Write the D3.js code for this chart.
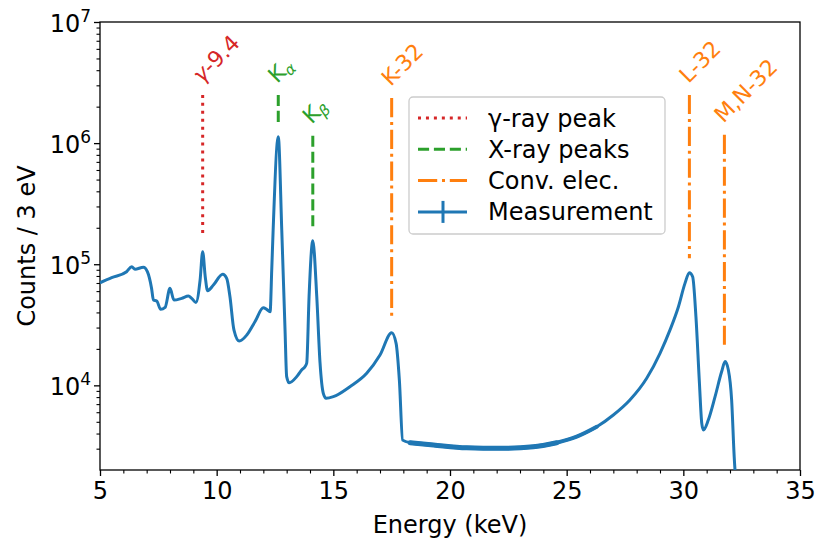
<!DOCTYPE html>
<html>
<meta charset="utf-8">
<script src="https://d3js.org/d3.v7.min.js"></script>
<style>
  body { margin: 0; background: #fff; }
  text { font-family: "DejaVu Sans", sans-serif; }
</style>
<body>
<div id="spectrum"></div>
<script>
// spectrum (energy in keV, counts per 3 eV)
var energy = [5.0, 5.5, 6.14, 6.36, 6.5, 6.86, 7.03, 7.21, 7.29, 7.43, 7.6, 7.79, 8.0, 8.17, 8.5, 8.79, 8.93, 9.11,
  9.29, 9.4, 9.51, 9.61, 9.86, 10.26, 10.43, 10.57, 10.74, 10.97, 11.29, 11.64, 12.0, 12.14, 12.29, 12.36,
  12.42, 12.64, 12.79, 12.93, 13.0, 13.11, 13.43, 13.64, 13.79, 13.86, 13.96, 14.12, 14.29, 14.43, 14.57, 14.69,
  15.0, 15.71, 16.43, 17.0, 17.5, 17.69, 17.83, 17.97, 18.29, 19.29, 20.71, 22.14, 23.57, 24.57, 25.43, 26.29,
  27.0, 27.71, 28.43, 29.0, 29.43, 29.79, 30.07, 30.26, 30.4, 30.54, 30.69, 30.79, 30.86, 31.07, 31.36, 31.64,
  31.79, 31.93, 32.07, 32.18, 32.3];
var counts = [70300, 77500, 86700, 95400, 91000, 94200, 86700, 63200, 50600, 49700, 42400, 44000, 63200, 50600, 52300,
  54600, 52300, 48400, 74100, 126800, 78900, 60400, 67300, 82600, 76400, 53900, 28700, 23200, 26000, 33500, 43700,
  42400, 40500, 89600, 191000, 1130000, 191000, 28700, 11800, 10500, 11800, 13400, 14300, 15300, 54000, 156000,
  54000, 15300, 8590, 7820, 8060, 9750, 12570, 17800, 27200, 22200, 11060, 3530, 3360, 3220, 3050, 3020, 3110,
  3360, 3770, 4550, 5690, 7570, 11440, 18400, 28700, 44600, 69500, 85100, 78900, 36900, 10400, 4850, 4280, 5170,
  8060, 12950, 15700, 13400, 7570, 2570, 1200];

// stretches where the measurement visibly scatters (keV) and how wide it looks there (px)
var noisyFrom  = [18.1, 18.1];
var noisyTo    = [26.8, 25.0];
var noisyWidth = [4, 5];

// peak markers: position, line ends, label, kind
var markE      = [9.4, 12.64, 14.12, 17.5, 30.26, 31.76];
var markTop    = [2.5e6, 2.5e6, 1.15e6, 2.36e6, 2.5e6, 1.17e6];
var markBottom = [1.68e5, 1.49e6, 1.99e5, 3.6e4, 1.12e5, 2.07e4];
var markLabel  = ["γ-9.4", "Kα", "Kβ", "K-32", "L-32", "M,N-32"];
var markKind   = ["gamma", "xray", "xray", "conv", "conv", "conv"];

var legendLabels = ["γ-ray peak", "X-ray peaks", "Conv. elec.", "Measurement"];
var legendKinds  = ["gamma", "xray", "conv", "meas"];

var xTicks = [5, 10, 15, 20, 25, 30, 35];
var yTicks = [4, 5, 6, 7];   // exponents

var kindColor = {gamma: "#d62728", xray: "#2ca02c", conv: "#ff7f0e", meas: "#1f77b4"};
var kindDash  = {gamma: "3,4.95", xray: "11.1,4.8", conv: "19.2,4.8,3,4.8", meas: null};

var W = 815, H = 539;
var margin = {top: 22, right: 15, bottom: 69, left: 100},
    width = 800 - margin.left,
    height = 470 - margin.top;

var svg = d3.select("#spectrum").append("svg")
    .attr("width", W).attr("height", H);

var g = svg.append("g")
    .attr("transform", "translate(" + margin.left + "," + margin.top + ")");

var x = d3.scaleLinear().domain([5, 35]).range([0, width]);
var y = d3.scaleLog().domain([2000, 1e7]).range([height, 0]);

g.append("clipPath").attr("id", "plotclip")
  .append("rect").attr("width", width).attr("height", height);

// x axis
var minorX = d3.range(5, 36, 1).filter(function(d) { return d % 5 !== 0; });
g.append("g").attr("transform", "translate(0," + height + ")")
  .call(d3.axisBottom(x).tickValues(minorX).tickSize(3.5).tickFormat(""))
  .call(function(a) { a.select(".domain").remove(); a.selectAll("line").attr("stroke-width", 1.1); });
var xa = g.append("g").attr("transform", "translate(0," + height + ")")
  .call(d3.axisBottom(x).tickValues(xTicks).tickSize(6).tickPadding(6).tickFormat(d3.format("d")));
xa.select(".domain").remove();
xa.selectAll("line").attr("stroke-width", 1.3);
xa.selectAll("text").attr("font-size", 24).attr("fill", "#000").attr("font-family", "DejaVu Sans");

// y axis
var minorY = [];
[3, 4, 5, 6].forEach(function(e) {
  for (var m = 2; m <= 9; m++) { var v = m * Math.pow(10, e); if (v > 2000) minorY.push(v); }
});
g.append("g")
  .call(d3.axisLeft(y).tickValues(minorY).tickSize(3.5).tickFormat(""))
  .call(function(a) { a.select(".domain").remove(); a.selectAll("line").attr("stroke-width", 1.1); });
var ya = g.append("g")
  .call(d3.axisLeft(y).tickValues(yTicks.map(function(e) { return Math.pow(10, e); })).tickSize(6).tickFormat(""));
ya.select(".domain").remove();
ya.selectAll("line").attr("stroke-width", 1.3);
yTicks.forEach(function(e) {
  var t = g.append("text")
    .attr("x", -9).attr("y", y(Math.pow(10, e)) + 10)
    .attr("text-anchor", "end").attr("font-size", 24);
  t.append("tspan").text("10");
  t.append("tspan").attr("font-size", 17).attr("dy", -10).text(e);
});

// frame
g.append("rect").attr("width", width).attr("height", height)
  .attr("fill", "none").attr("stroke", "#000").attr("stroke-width", 1.3);

// peak markers
markE.forEach(function(e, i) {
  var k = markKind[i];
  g.append("line")
    .attr("x1", x(e)).attr("x2", x(e))
    .attr("y1", y(markTop[i])).attr("y2", y(markBottom[i]))
    .attr("stroke", kindColor[k]).attr("stroke-width", 3)
    .attr("stroke-dasharray", kindDash[k]);
  var tx = x(e) - 1, ty = y(markTop[i]) - 11;
  var t = g.append("text")
    .attr("transform", "translate(" + tx + "," + ty + ") rotate(-45)")
    .attr("font-size", 22).attr("fill", kindColor[k]);
  var lab = markLabel[i];
  if (lab === "Kα" || lab === "Kβ") {
    t.append("tspan").text("K");
    t.append("tspan").attr("font-size", 15).attr("font-style", "italic").attr("dy", 4).text(lab.slice(1));
  } else if (lab.charAt(0) === "γ") {
    t.append("tspan").attr("font-style", "italic").text("γ");
    t.append("tspan").text(lab.slice(1));
  } else {
    t.text(lab);
  }
});

// measured spectrum
var pts = energy.map(function(e, i) { return [e, counts[i]]; });
var line = d3.line().curve(d3.curveMonotoneX)
    .x(function(d) { return x(d[0]); })
    .y(function(d) { return y(d[1]); });
g.append("path")
  .datum(pts)
  .attr("clip-path", "url(#plotclip)")
  .attr("fill", "none")
  .attr("stroke", kindColor.meas)
  .attr("stroke-width", 3)
  .attr("stroke-linejoin", "round")
  .attr("d", line);
// thicker where the bins scatter
noisyFrom.forEach(function(lo, i) {
  g.append("path")
    .datum(pts.filter(function(d) { return d[0] >= lo && d[0] <= noisyTo[i]; }))
    .attr("fill", "none")
    .attr("stroke", kindColor.meas)
    .attr("stroke-width", noisyWidth[i])
    .attr("stroke-linecap", "round")
    .attr("d", line);
});

// legend
var lg = svg.append("g").attr("transform", "translate(409,97)");
lg.append("rect").attr("width", 256).attr("height", 137).attr("rx", 4)
  .attr("fill", "#fff").attr("fill-opacity", 0.8)
  .attr("stroke", "#cccccc").attr("stroke-width", 1.3);
legendLabels.forEach(function(lab, i) {
  var k = legendKinds[i], cy = 21 + i * 31.3;
  lg.append("line").attr("x1", 9).attr("x2", 58).attr("y1", cy).attr("y2", cy)
    .attr("stroke", kindColor[k]).attr("stroke-width", 3)
    .attr("stroke-dasharray", kindDash[k]);
  if (k === "meas") {
    lg.append("line").attr("x1", 34).attr("x2", 34).attr("y1", cy - 11).attr("y2", cy + 11)
      .attr("stroke", kindColor[k]).attr("stroke-width", 3);
  }
  lg.append("text").attr("x", 79).attr("y", cy + 8.5).attr("font-size", 24).text(lab);
});

// axis titles
svg.append("text")
  .attr("transform", "translate(35," + (margin.top + height / 2) + ") rotate(-90)")
  .attr("text-anchor", "middle").attr("font-size", 24).text("Counts / 3 eV");
svg.append("text")
  .attr("x", margin.left + width / 2).attr("y", 533)
  .attr("text-anchor", "middle").attr("font-size", 24).text("Energy (keV)");
</script>
</body>
</html>
